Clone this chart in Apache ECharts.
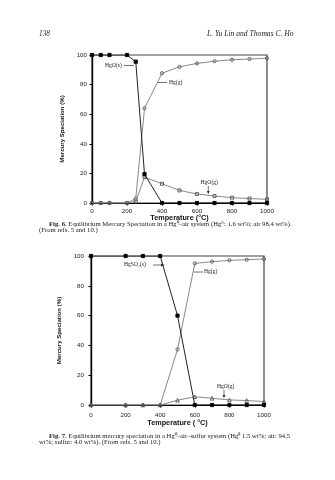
<!DOCTYPE html>
<html><head><meta charset="utf-8">
<script src="https://cdn.jsdelivr.net/npm/echarts@6/dist/echarts.min.js"></script>
<style>html,body{margin:0;padding:0;background:#fff}#c{width:335px;height:480px}</style>
</head><body><div id="c"></div>
<script>
// Figure 6: Hg0-air system
const temps1 = [0, 50, 100, 200, 250, 300, 400, 500, 600, 700, 800, 900, 1000];
const hgoSolid1 = [100, 100, 100, 100, 95.5, 19.5, 0, 0, 0, 0, 0, 0, 0];
const hgGas1 = [0, 0, 0, 0, 3, 64, 87.7, 92, 94.3, 95.8, 96.8, 97.3, 97.8];
const hgoGas1 = [0, 0, 0, 0, 1, 17.5, 13, 8.5, 6.1, 4.7, 3.6, 3, 2.5];
// Figure 7: Hg0-air-sulfur system
const temps2 = [0, 200, 300, 400, 500, 600, 700, 800, 900, 1000];
const hgso4Solid2 = [100, 100, 100, 100, 60, 0, 0, 0, 0, 0];
const hgGas2 = [0, 0, 0, 0, 37.3, 95, 96.2, 97.1, 97.5, 98];
const hgoGas2 = [0, 0, 0, 0, 3.2, 5.5, 4.5, 3.4, 3, 2.3];
const xTicks = [0, 200, 400, 600, 800, 1000];
const yTicks = [0, 20, 40, 60, 80, 100];

const pair = (xs, ys) => xs.map((x, i) => [x, ys[i]]);
const SANS = 'Liberation Sans, Arial, sans-serif';
const SERIF = 'Liberation Serif, Times New Roman, serif';

function xAx(gi, name, gap, margin) {
  return {
    type: 'value', gridIndex: gi, min: xTicks[0], max: xTicks[xTicks.length - 1], interval: xTicks[1] - xTicks[0],
    axisLine: { show: true, onZero: false, lineStyle: { color: '#000', width: 1.2 } },
    axisTick: { show: true, length: 2.5, lineStyle: { color: '#000', width: 1 } },
    axisLabel: { fontSize: 6.2, color: '#222', margin: margin, fontFamily: SANS, formatter: v => String(v) },
    splitLine: { show: false },
    name: name, nameLocation: 'middle', nameGap: gap,
    nameTextStyle: { fontSize: 7.25, fontWeight: 'bold', fontFamily: SANS, color: '#111' }
  };
}
function yAx(gi, gap, margin) {
  return {
    type: 'value', gridIndex: gi, min: yTicks[0], max: yTicks[yTicks.length - 1], interval: yTicks[1] - yTicks[0],
    axisLine: { show: true, onZero: false, lineStyle: { color: '#000', width: 1.4 } },
    axisTick: { show: true, length: 2.5, lineStyle: { color: '#000', width: 1 } },
    axisLabel: { fontSize: 6.2, color: '#222', margin: margin, fontFamily: SANS, formatter: v => String(v) },
    splitLine: { show: false },
    name: 'Mercury Speciation (%)', nameLocation: 'middle', nameGap: gap, nameRotate: 90,
    nameTextStyle: { fontSize: 6.1, fontWeight: 'bold', fontFamily: SANS, color: '#111' }
  };
}
function ser(gi, data, symbol, size, color, fill, lineColor, z) {
  return {
    type: 'line', xAxisIndex: gi, yAxisIndex: gi, data: data, symbol: symbol, symbolSize: size,
    showAllSymbol: true, animation: false, z: z,
    lineStyle: { color: lineColor, width: 1 },
    itemStyle: { color: fill, borderColor: color, borderWidth: 0.9 }
  };
}

const txt = (x, y, text, size, font, extra) => ({
  type: 'text', x: x, y: y, silent: true,
  style: Object.assign({ text: text, fontSize: size, fontFamily: font, fill: '#222', verticalAlign: 'middle', align: 'left' }, extra || {})
});
const ln = (x1, y1, x2, y2) => ({ type: 'line', silent: true, shape: { x1, y1, x2, y2 }, style: { stroke: '#333', lineWidth: 0.7 } });
const tri = (pts) => ({ type: 'polygon', silent: true, shape: { points: pts }, style: { fill: '#333' } });
const cap = (x, y, bold, rest) => ({
  type: 'text', x: x, y: y, silent: true,
  style: { text: '{b|' + bold + '}' + rest, fontSize: 6.7, fontFamily: SERIF, fill: '#222', verticalAlign: 'middle',
    rich: { b: { fontWeight: 'bold', fontSize: 6.7, fontFamily: SERIF, fill: '#222' } } }
});

const OPEN = 'rgba(255,255,255,0)';
const chart = echarts.init(document.getElementById('c'), null, { renderer: 'canvas' });
chart.setOption({
  backgroundColor: '#fff',
  animation: false,
  grid: [
    { left: 92, top: 55, width: 175, height: 148, show: true, borderColor: '#444', borderWidth: 1.2, backgroundColor: 'transparent' },
    { left: 91, top: 256, width: 173, height: 149, show: true, borderColor: '#444', borderWidth: 1.2, backgroundColor: 'transparent' }
  ],
  xAxis: [xAx(0, 'Temperature (\u00B0C)', 9.5, 5), xAx(1, 'Temperature ( \u00B0C)', 13, 7.5)],
  yAxis: [yAx(0, 16, 5), yAx(1, 18.5, 7)],
  series: [
    ser(0, pair(temps1, hgGas1), 'circle', 3.2, '#555', OPEN, '#888', 2),
    ser(0, pair(temps1, hgoGas1), 'rect', 3, '#555', OPEN, '#888', 3),
    ser(0, pair(temps1, hgoSolid1), 'rect', 3.2, '#000', '#000', '#222', 4),
    ser(1, pair(temps2, hgGas2), 'circle', 3.2, '#555', OPEN, '#888', 2),
    ser(1, pair(temps2, hgoGas2), 'triangle', 3.6, '#555', OPEN, '#888', 3),
    ser(1, pair(temps2, hgso4Solid2), 'rect', 3.2, '#000', '#000', '#222', 4)
  ],
  graphic: [
    // running header
    txt(39, 34, '138', 7.3, SERIF, { fontStyle: 'italic' }),
    txt(207, 34, 'L. Yu Lin and Thomas C. Ho', 7.6, SERIF, { fontStyle: 'italic' }),
    // fig 6 annotations
    txt(105, 65.5, 'HgO(s)', 5.6, SERIF),
    ln(124, 65.5, 134, 65.5),
    txt(169, 82.5, 'Hg(g)', 5.6, SERIF),
    ln(157, 82.5, 167, 82.5),
    txt(200.5, 182.5, 'HgO(g)', 5.6, SERIF),
    ln(208.3, 186, 208.3, 193),
    tri([[206.8, 191], [209.8, 191], [208.3, 194]]),
    // fig 6 caption
    cap(49, 224, 'Fig. 6.', ' Equilibrium Mercury Speciation in a Hg\u2070\u2013air system (Hg\u00B0: 1.6 wt%; air 98.4 wt%).'),
    txt(39, 230.5, '(From refs. 5 and 10.)', 6.7, SERIF),
    // fig 7 annotations
    txt(124, 265, 'HgSO\u2084(s)', 5.6, SERIF),
    ln(153, 265, 163, 265),
    tri([[161, 263.6], [161, 266.4], [164.5, 265]]),
    txt(204, 272, 'Hg(g)', 5.6, SERIF),
    ln(194, 272, 203, 272),
    txt(217, 386.5, 'HgO(g)', 5.6, SERIF),
    ln(224, 390, 224, 397),
    tri([[222.5, 395], [225.5, 395], [224, 398]]),
    // fig 7 caption
    cap(49, 436, 'Fig. 7.', ' Equilibrium mercury speciation in a Hg\u2070\u2013air\u2013sulfur system (Hg\u2070 1.5 wt%; air: 94.5'),
    txt(39, 442.5, 'wt%; sulfur: 4.0 wt%). (From refs. 5 and 10.)', 6.7, SERIF)
  ]
});
</script>
</body></html>
